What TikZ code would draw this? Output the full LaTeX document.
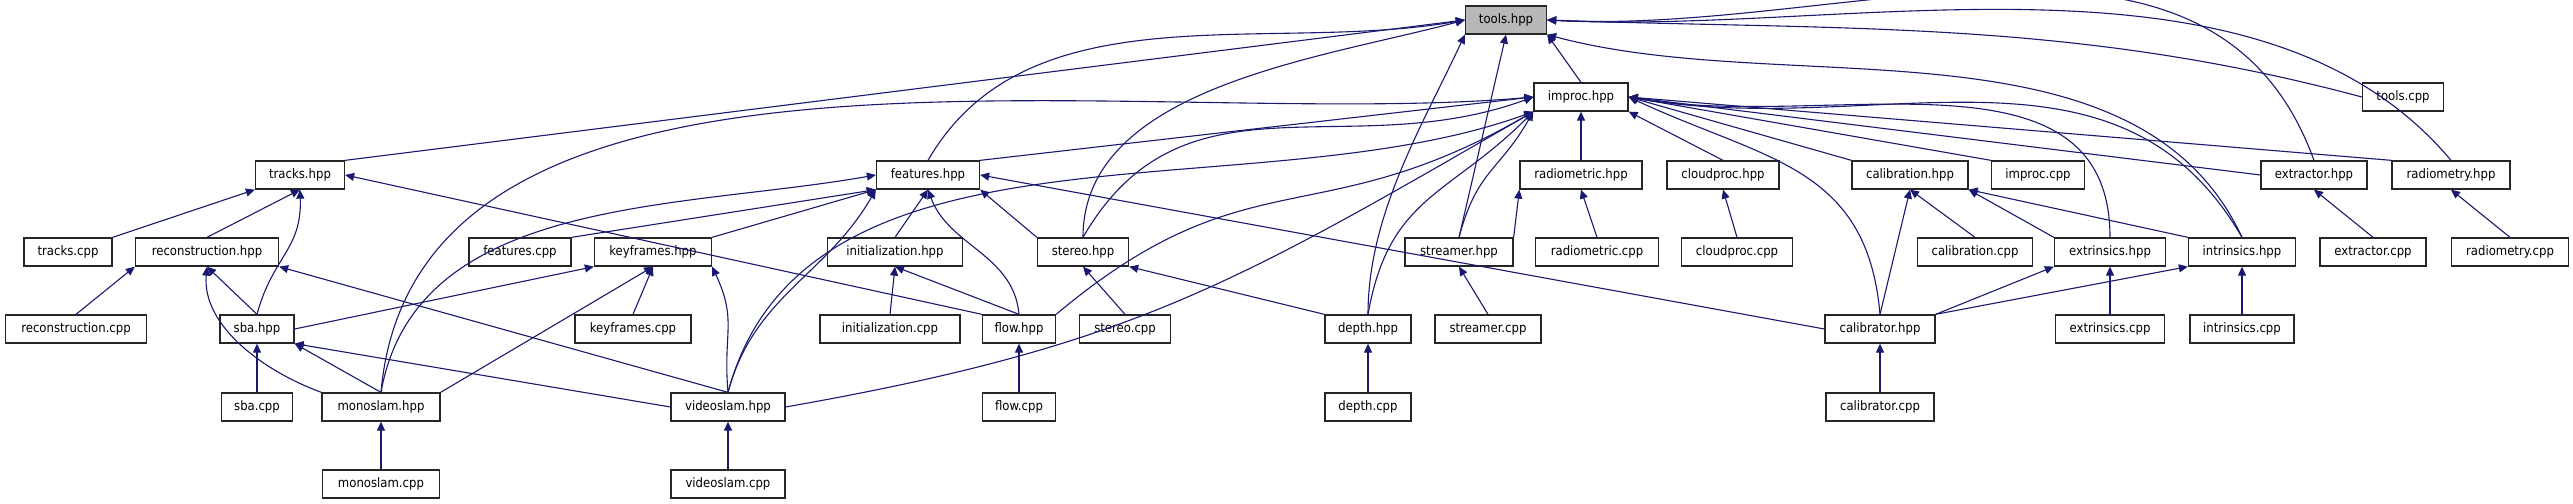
\documentclass[tikz,border=0pt]{standalone}
\usepackage{fontspec}
\setmainfont{DejaVu Sans Condensed}
\usetikzlibrary{arrows.meta}
\definecolor{edge}{HTML}{191970}
\tikzset{
  box/.style={draw=black!85, line width=0.26pt, fill=white, minimum height=5.6pt, inner sep=0pt, font=\fontsize{2.6}{2.8}\selectfont},
  w/.style={minimum width=#1*0.2pt},
  root/.style={box, fill=black!28},
  dep/.style={draw=edge, line width=0.22pt, {Triangle[length=1.8pt,width=1.6pt]}-},
  d/.style={distance=#1*0.2pt}
}
\begin{document}
\begin{tikzpicture}[x=0.2pt,y=-0.2pt]
\useasboundingbox (0,0) rectangle (2573,504);
% row 0
\node[root, w=81] (tools) at (1506,20) {tools.hpp};
% row 1
\node[box, w=94] (improc) at (1581,97) {improc.hpp};
\node[box, w=81] (toolscpp) at (2403,97) {tools.cpp};
% row 2
\node[box, w=89] (tracks) at (300,175) {tracks.hpp};
\node[box, w=103] (features) at (928,175) {features.hpp};
\node[box, w=122] (radiometric) at (1581,175) {radiometric.hpp};
\node[box, w=112] (cloudproc) at (1723,175) {cloudproc.hpp};
\node[box, w=116] (calibration) at (1910,175) {calibration.hpp};
\node[box, w=93] (improccpp) at (2038,175) {improc.cpp};
\node[box, w=106] (extractor) at (2314,175) {extractor.hpp};
\node[box, w=118] (radiometry) at (2451,175) {radiometry.hpp};
% row 3
\node[box, w=88] (trackscpp) at (68,252) {tracks.cpp};
\node[box, w=143] (reconstruction) at (207,252) {reconstruction.hpp};
\node[box, w=102] (featurescpp) at (520,252) {features.cpp};
\node[box, w=117] (keyframes) at (653,252) {keyframes.hpp};
\node[box, w=135] (initialization) at (895,252) {initialization.hpp};
\node[box, w=91] (stereo) at (1083,252) {stereo.hpp};
\node[box, w=108] (streamer) at (1459,252) {streamer.hpp};
\node[box, w=123] (radiometriccpp) at (1597,252) {radiometric.cpp};
\node[box, w=111] (cloudproccpp) at (1737,252) {cloudproc.cpp};
\node[box, w=115] (calibrationcpp) at (1975,252) {calibration.cpp};
\node[box, w=111] (extrinsics) at (2110,252) {extrinsics.hpp};
\node[box, w=107] (intrinsics) at (2242,252) {intrinsics.hpp};
\node[box, w=106] (extractorcpp) at (2373,252) {extractor.cpp};
\node[box, w=117] (radiometrycpp) at (2510,252) {radiometry.cpp};
% row 4
\node[box, w=141] (reconstructioncpp) at (76,329) {reconstruction.cpp};
\node[box, w=74] (sba) at (257,329) {sba.hpp};
\node[box, w=116] (keyframescpp) at (633,329) {keyframes.cpp};
\node[box, w=140] (initializationcpp) at (890,329) {initialization.cpp};
\node[box, w=73] (flow) at (1019,329) {flow.hpp};
\node[box, w=91] (stereocpp) at (1125,329) {stereo.cpp};
\node[box, w=86] (depth) at (1368,329) {depth.hpp};
\node[box, w=106] (streamercpp) at (1488,329) {streamer.cpp};
\node[box, w=110] (calibrator) at (1880,329) {calibrator.hpp};
\node[box, w=109] (extrinsicscpp) at (2110,329) {extrinsics.cpp};
\node[box, w=104] (intrinsicscpp) at (2242,329) {intrinsics.cpp};
% row 5
\node[box, w=71] (sbacpp) at (257,407) {sba.cpp};
\node[box, w=118] (monoslam) at (381,407) {monoslam.hpp};
\node[box, w=114] (videoslam) at (728,407) {videoslam.hpp};
\node[box, w=73] (flowcpp) at (1019,407) {flow.cpp};
\node[box, w=86] (depthcpp) at (1368,407) {depth.cpp};
\node[box, w=108] (calibratorcpp) at (1880,407) {calibrator.cpp};
% row 6
\node[box, w=117] (monoslamcpp) at (381,484) {monoslam.cpp};
\node[box, w=114] (videoslamcpp) at (728,484) {videoslam.cpp};

% edges to tools.hpp
\draw[dep] (tools.west) -- (tracks.north east);
\draw[dep] (tools.west) to[out=190,in=60,d=200] (features.north);
\draw[dep] (tools.west) to[out=195,in=90,d=150] (stereo.north);
\draw[dep] (tools.south west) to[out=-115,in=90,d=100] (depth.north);
\draw[dep] (tools.south) -- (streamer.north);
\draw[dep] (tools.south east) -- (improc.north);
\draw[dep] (tools.east) to[out=-2,in=165,d=300] (toolscpp.west);
\draw[dep] (tools.east) to[out=-3,in=110,d=300] (extractor.north);
\draw[dep] (tools.east) to[out=-3,in=130,d=300] (radiometry.north);
\draw[dep] (tools.south east) to[out=-15,in=115,d=250] (intrinsics.north);
% edges to improc.hpp
\draw[dep] (improc.west) -- (features.north east);
\draw[dep] (improc.west) to[out=185,in=85,d=400] (monoslam.north);
\draw[dep] (improc.south west) to[out=-160,in=75,d=300] (videoslam.north);
\draw[dep] (improc.west) to[out=200,in=60,d=200] (stereo.north);
\draw[dep] (improc.south west) to[out=-150,in=40,d=250] (flow.north east);
\draw[dep] (improc.south west) to[out=-135,in=80,d=120] (depth.north);
\draw[dep] (improc.south west) to[out=-120,in=75,d=70] (streamer.north);
\draw[dep] (improc.south) -- (radiometric.north);
\draw[dep] (improc.south east) -- (cloudproc.north);
\draw[dep] (improc.east) -- (calibration.north west);
\draw[dep] (improc.east) -- (improccpp.north west);
\draw[dep] (improc.east) -- (extractor.west);
\draw[dep] (improc.east) -- (radiometry.north west);
\draw[dep] (improc.east) to[out=-10,in=90,d=200] (extrinsics.north);
\draw[dep] (improc.east) to[out=-10,in=120,d=250] (intrinsics.north);
\draw[dep] (improc.east) to[out=-25,in=95,d=150] (calibrator.north);
\draw[dep] (improc.south west) to[out=-150,in=10,d=350] (videoslam.east);
% tracks
\draw[dep] (tracks.south west) -- (trackscpp.north east);
\draw[dep] (tracks.south) -- (reconstruction.north);
\draw[dep] (tracks.south) to[out=-88,in=75,d=60] (sba.north);
\draw[dep] (tracks.east) -- (flow.north west);
% features
\draw[dep] (features.west) to[out=190,in=80,d=200] (monoslam.north);
\draw[dep] (features.south west) -- (featurescpp.north east);
\draw[dep] (features.south west) -- (keyframes.north east);
\draw[dep] (features.south) -- (initialization.north);
\draw[dep] (features.south) to[out=-70,in=95,d=60] (flow.north);
\draw[dep] (features.south east) -- (stereo.north west);
\draw[dep] (features.south west) to[out=-120,in=75,d=100] (videoslam.north);
\draw[dep] (features.east) -- (calibrator.west);
% reconstruction
\draw[dep] (reconstruction.south west) -- (reconstructioncpp.north);
\draw[dep] (reconstruction.south) -- (sba.north);
\draw[dep] (reconstruction.south) to[out=-95,in=160,d=60] (monoslam.north west);
\draw[dep] (reconstruction.south east) -- (videoslam.north);
% keyframes
\draw[dep] (keyframes.south west) -- (sba.east);
\draw[dep] (keyframes.south) -- (monoslam.north east);
\draw[dep] (keyframes.south) -- (keyframescpp.north);
\draw[dep] (keyframes.south east) to[out=-65,in=95,d=60] (videoslam.north);
% sba
\draw[dep] (sba.south) -- (sbacpp.north);
\draw[dep] (sba.south east) -- (monoslam.north);
\draw[dep] (sba.south east) -- (videoslam.west);
% others
\draw[dep] (monoslam.south) -- (monoslamcpp.north);
\draw[dep] (videoslam.south) -- (videoslamcpp.north);
\draw[dep] (initialization.south) -- (initializationcpp.north);
\draw[dep] (initialization.south) -- (flow.north);
\draw[dep] (stereo.south) -- (stereocpp.north);
\draw[dep] (stereo.south east) -- (depth.north west);
\draw[dep] (flow.south) -- (flowcpp.north);
\draw[dep] (depth.south) -- (depthcpp.north);
\draw[dep] (radiometric.south west) -- (streamer.north east);
\draw[dep] (radiometric.south) -- (radiometriccpp.north);
\draw[dep] (streamer.south) -- (streamercpp.north);
\draw[dep] (cloudproc.south) -- (cloudproccpp.north);
\draw[dep] (calibration.south) -- (calibrator.north);
\draw[dep] (calibration.south) -- (calibrationcpp.north);
\draw[dep] (calibration.south east) -- (extrinsics.north west);
\draw[dep] (calibration.south east) -- (intrinsics.north west);
\draw[dep] (extrinsics.south west) -- (calibrator.north east);
\draw[dep] (extrinsics.south) -- (extrinsicscpp.north);
\draw[dep] (intrinsics.south west) -- (calibrator.north east);
\draw[dep] (intrinsics.south) -- (intrinsicscpp.north);
\draw[dep] (calibrator.south) -- (calibratorcpp.north);
\draw[dep] (extractor.south) -- (extractorcpp.north);
\draw[dep] (radiometry.south) -- (radiometrycpp.north);
\end{tikzpicture}
\end{document}
